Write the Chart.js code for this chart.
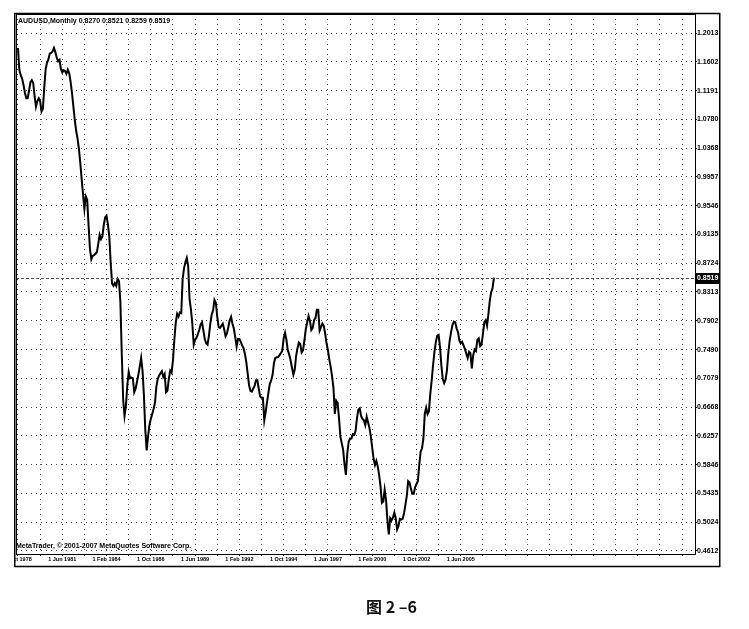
<!DOCTYPE html>
<html>
<head>
<meta charset="utf-8">
<script src="https://cdn.jsdelivr.net/npm/chart.js@4/dist/chart.umd.min.js"></script>
<style>
  html, body { margin: 0; padding: 0; background: #fff; }
  #wrap { position: absolute; left: 0; top: 0; width: 749px; height: 629px; }
  #caption {
    position: absolute; left: 366px; top: 594px;
    font-family: "Noto Sans CJK SC", sans-serif; font-weight: bold; font-size: 16px;
    color: #111; white-space: pre;
  }
</style>
</head>
<body>
<div id="wrap"><canvas id="c" width="749" height="629"></canvas></div>
<div id="caption">图 2 –6</div>
<script>
// AUDUSD monthly closes, first bar Oct 1978
const symbol = 'AUDUSD,Monthly';
const ohlc = [0.8270, 0.8521, 0.8259, 0.8519];
const closes = [
  1.180,1.148,1.141,1.136,1.127,1.116,1.108,1.108,1.119,1.131,
  1.134,1.130,1.111,1.096,1.104,1.108,1.104,1.089,1.093,1.124,
  1.150,1.159,1.164,1.172,1.173,1.175,1.180,1.174,1.166,1.161,
  1.163,1.150,1.145,1.148,1.147,1.143,1.149,1.144,1.132,1.116,
  1.097,1.078,1.062,1.051,1.036,1.016,0.993,0.971,0.950,0.968,
  0.963,0.927,0.893,0.878,0.883,0.884,0.886,0.888,0.900,0.913,
  0.907,0.911,0.927,0.938,0.940,0.928,0.910,0.873,0.843,0.840,
  0.844,0.840,0.850,0.847,0.817,0.743,0.678,0.654,0.668,0.698,
  0.717,0.708,0.709,0.708,0.688,0.693,0.703,0.713,0.725,0.737,
  0.719,0.684,0.634,0.605,0.625,0.641,0.650,0.657,0.664,0.673,
  0.696,0.707,0.712,0.715,0.718,0.710,0.714,0.688,0.690,0.707,
  0.719,0.716,0.734,0.763,0.787,0.800,0.796,0.802,0.801,0.850,
  0.865,0.874,0.880,0.868,0.821,0.806,0.786,0.756,0.763,0.766,
  0.771,0.777,0.785,0.788,0.776,0.764,0.758,0.756,0.769,0.786,
  0.799,0.805,0.820,0.816,0.796,0.781,0.780,0.783,0.786,0.778,
  0.768,0.772,0.781,0.791,0.796,0.786,0.779,0.767,0.753,0.764,
  0.764,0.760,0.755,0.751,0.743,0.731,0.715,0.698,0.690,0.689,
  0.693,0.697,0.705,0.705,0.693,0.682,0.680,0.680,0.648,0.660,
  0.674,0.687,0.700,0.705,0.713,0.730,0.737,0.738,0.738,0.741,
  0.744,0.747,0.765,0.773,0.763,0.748,0.742,0.734,0.723,0.713,
  0.720,0.740,0.751,0.759,0.757,0.745,0.748,0.762,0.778,0.788,
  0.797,0.790,0.777,0.780,0.791,0.794,0.806,0.806,0.776,0.781,
  0.786,0.783,0.772,0.758,0.748,0.735,0.724,0.711,0.694,0.657,
  0.676,0.673,0.651,0.625,0.615,0.606,0.585,0.570,0.601,0.617,
  0.622,0.622,0.628,0.627,0.633,0.651,0.663,0.665,0.654,0.650,
  0.648,0.641,0.653,0.645,0.637,0.625,0.609,0.593,0.584,0.590,
  0.582,0.570,0.554,0.530,0.532,0.549,0.534,0.505,0.485,0.508,
  0.505,0.509,0.516,0.508,0.492,0.497,0.507,0.506,0.507,0.515,
  0.527,0.540,0.561,0.559,0.550,0.543,0.543,0.552,0.557,0.561,
  0.584,0.603,0.608,0.622,0.657,0.666,0.657,0.661,0.686,0.705,
  0.727,0.746,0.760,0.769,0.770,0.753,0.726,0.707,0.701,0.706,
  0.719,0.744,0.762,0.774,0.784,0.789,0.788,0.779,0.774,0.762,
  0.758,0.760,0.755,0.750,0.743,0.737,0.746,0.744,0.722,0.741,
  0.749,0.747,0.763,0.765,0.754,0.756,0.771,0.788,0.791,0.783,
  0.800,0.819,0.831,0.837,0.8519
];
// time labels every 32 bars, grid every 16 bars
const xTickLabels = ['1 Oct 1978', '1 Jun 1981', '1 Feb 1984', '1 Oct 1986', '1 Jun 1989',
  '1 Feb 1992', '1 Oct 1994', '1 Jun 1997', '1 Feb 2000', '1 Oct 2002', '1 Jun 2005'];
const yTickValues = [1.2013, 1.1602, 1.1191, 1.0780, 1.0368, 0.9957, 0.9546, 0.9135, 0.8724,
  0.8313, 0.7902, 0.7490, 0.7079, 0.6668, 0.6257, 0.5846, 0.5435, 0.5024, 0.4612];

const FONT = '"Liberation Sans", Arial, sans-serif';

// keep everything inside the terminal window frame (first date label gets cut like in MT)
const frameClip = {
  id: 'frameClip',
  beforeDraw(chart) {
    const ctx = chart.ctx;
    ctx.save();
    ctx.beginPath();
    ctx.rect(14, 12, 707, 556);
    ctx.clip();
  },
  afterDraw(chart) {
    chart.ctx.restore();
  }
};

const mtDecor = {
  id: 'mtDecor',
  afterDatasetsDraw(chart) {
    const { ctx, chartArea: a, scales } = chart;
    const last = closes[closes.length - 1];
    const py = Math.round(scales.y.getPixelForValue(last)) + 0.5;
    ctx.save();
    // bid line
    ctx.strokeStyle = '#555';
    ctx.lineWidth = 1;
    ctx.setLineDash([3, 2]);
    ctx.beginPath();
    ctx.moveTo(a.left, py);
    ctx.lineTo(a.right, py);
    ctx.stroke();
    ctx.setLineDash([]);
    // price box
    ctx.fillStyle = '#000';
    ctx.fillRect(a.right, py - 5.5, 24, 11);
    ctx.fillStyle = '#fff';
    ctx.font = 'bold 7px ' + FONT;
    ctx.textBaseline = 'middle';
    ctx.fillText(last.toFixed(4), a.right + 2, py);
    // texts
    ctx.fillStyle = '#000';
    ctx.textBaseline = 'alphabetic';
    ctx.fillText(symbol + ' ' + ohlc.map(v => v.toFixed(4)).join(' '), a.left + 2, a.top + 9);
    ctx.fillText('MetaTrader, \u00a9 2001-2007 MetaQuotes Software Corp.', a.left, a.bottom - 6);
    // frame
    ctx.strokeStyle = '#000';
    ctx.lineWidth = 1;
    ctx.strokeRect(a.left + 0.5, a.top + 0.5, a.right - a.left, a.bottom - a.top);
    ctx.lineWidth = 1.5;
    ctx.strokeRect(14.75, 13.5, 705, 553);
    ctx.restore();
  }
};

const gridOpts = { color: 'rgba(0,0,0,0.7)', lineWidth: 1, tickLength: 2, tickColor: '#000', tickBorderDash: [] };
const borderOpts = { display: true, color: '#000', width: 1, dash: [1, 4] };

new Chart(document.getElementById('c'), {
  type: 'line',
  data: {
    datasets: [{
      data: closes.map((v, i) => ({ x: i, y: v })),
      borderColor: '#000',
      borderWidth: 2,
      pointRadius: 0,
      tension: 0,
      fill: false
    }]
  },
  options: {
    responsive: false,
    animation: false,
    devicePixelRatio: 1,
    layout: { padding: { left: 16, top: 14, right: 29, bottom: 63 } },
    plugins: { legend: { display: false }, tooltip: { enabled: false } },
    scales: {
      x: {
        type: 'linear',
        min: -1.445,
        max: 489.3,
        afterBuildTicks: ax => {
          const t = [];
          for (let m = 0; m <= 480; m += 16) t.push({ value: m });
          ax.ticks = t;
        },
        afterFit: ax => { ax.height = 12; },
        ticks: {
          autoSkip: false,
          maxRotation: 0,
          padding: 0,
          color: '#000',
          font: { family: FONT, size: 5.5, weight: 'bold' },
          callback: v => (v % 32 === 0 && v / 32 < xTickLabels.length) ? xTickLabels[v / 32] : ''
        },
        grid: gridOpts,
        border: borderOpts
      },
      y: {
        position: 'right',
        min: 0.4569,
        max: 1.2285,
        afterBuildTicks: ax => { ax.ticks = yTickValues.map(v => ({ value: v })); },
        afterFit: ax => { ax.width = 25; },
        ticks: {
          padding: 0,
          color: '#000',
          font: { family: FONT, size: 7, weight: 'bold' },
          callback: v => v.toFixed(4)
        },
        grid: gridOpts,
        border: borderOpts
      }
    }
  },
  plugins: [frameClip, mtDecor]
});
</script>
</body>
</html>
